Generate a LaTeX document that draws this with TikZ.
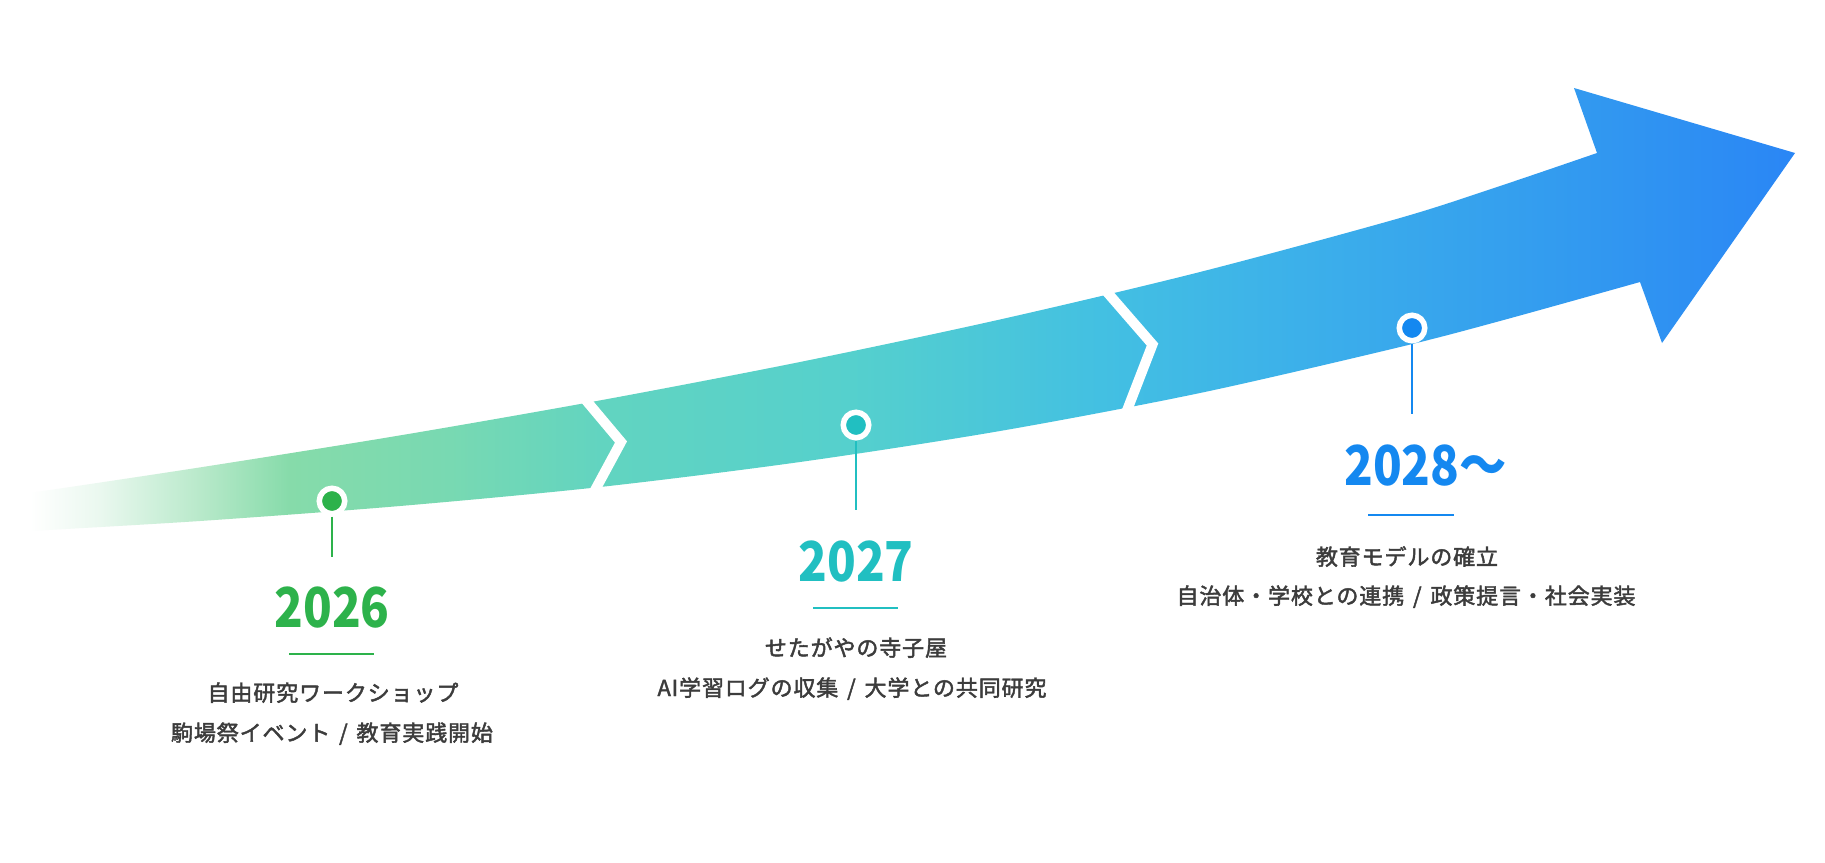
\documentclass[tikz,border=0pt]{standalone}
\usepackage{fontspec}
\newfontfamily\jpyear{Noto Sans CJK JP}[FakeStretch=0.86]
\newfontfamily\jpbody{Noto Sans CJK JP}[FakeBold=2, LetterSpace=4]
\definecolor{green1}{HTML}{2DB24B}
\definecolor{teal1}{HTML}{21BFC1}
\definecolor{blue1}{HTML}{1488F0}
\definecolor{bodytext}{HTML}{3C3C3C}
\definecolor{g0}{HTML}{EAF8EF}
\definecolor{g1}{HTML}{B8E9CA}
\definecolor{g2}{HTML}{86DBAA}
\definecolor{g3}{HTML}{78D9B2}
\definecolor{g4}{HTML}{62D4C0}
\definecolor{g5}{HTML}{55D0CD}
\definecolor{g6}{HTML}{43C0E2}
\definecolor{g7}{HTML}{3CB0EA}
\definecolor{g8}{HTML}{339CEF}
\definecolor{g9}{HTML}{2A86F5}
\pgfdeclarehorizontalshading{arrowgrad}{100bp}{color(0bp)=(white); color(25bp)=(white); color(26.98bp)=(g0); color(29.82bp)=(g1); color(32.37bp)=(g2); color(36.90bp)=(g3); color(41.15bp)=(g4); color(48.23bp)=(g5); color(55.31bp)=(g6); color(60.98bp)=(g7); color(68.06bp)=(g8); color(75bp)=(g9); color(100bp)=(g9)}
\begin{document}
\begin{tikzpicture}[x=1pt,y=-1pt,
  dotc/.style={circle, minimum size=25.5pt, inner sep=0pt, draw=white, line width=5.5pt},
  stem/.style={line width=2pt},
  uline/.style={line width=2.2pt},
  year/.style={font=\jpyear\bfseries\fontsize{55}{60}\selectfont, inner sep=0pt},
  body/.style={font=\jpbody\fontsize{22}{26}\selectfont, text=bodytext, inner sep=0pt},
  gap/.style={draw=white, line width=10pt, miter limit=10}]
\useasboundingbox (0,0) rectangle (1825,862);
\fill[white] (0,0) rectangle (1825,862);
\def\arrowpath{plot[smooth,tension=0.5] coordinates {(30,531) (200,521) (400,506) (600,487) (800,462) (1000,431) (1200,393) (1400,347) (1500,321) (1640,282)}
 -- (1662,343) -- (1795,153) -- (1574,88) -- (1597,153)
 -- plot[smooth,tension=0.5] coordinates {(1597,153) (1500,186) (1400,218) (1200,272) (1000,319.5) (800,362) (600,400.4) (400,435.4) (200,467.4) (30,493)} -- cycle}
\begin{scope}
  \clip \arrowpath;
  \shade[shading=arrowgrad] (30,80) rectangle (1795,540);
\end{scope}
% chevron gaps
\coordinate (ga1) at (579,392);
\coordinate (ga2) at (621,442);
\coordinate (ga3) at (594,492);
\coordinate (gb1) at (1100,284);
\coordinate (gb2) at (1152.5,344.5);
\coordinate (gb3) at (1126,413);
\draw[gap] (ga1) -- (ga2) -- (ga3);
\draw[gap] (gb1) -- (gb2) -- (gb3);
% markers
\node[dotc, fill=green1] (c1) at (332,501) {};
\node[dotc, fill=teal1] (c2) at (856,425) {};
\node[dotc, fill=blue1] (c3) at (1412,328) {};
\coordinate (e1) at (332,557);
\coordinate (e2) at (856,510);
\coordinate (e3) at (1412,414);
\draw[stem, green1] (c1.south) -- (e1);
\draw[stem, teal1] (c2.south) -- (e2);
\draw[stem, blue1] (c3.south) -- (e3);
% years
\node[year, text=green1, anchor=base] (y1) at (332,627) {2026};
\node[year, text=teal1, anchor=base] (y2) at (856,581) {2027};
\node[year, text=blue1, anchor=base west] (y3) at (1344,485) {2028～};
% underlines
\coordinate (u1a) at (289,654); \coordinate (u1b) at (374,654);
\coordinate (u2a) at (813,608); \coordinate (u2b) at (898,608);
\coordinate (u3a) at (1368,515); \coordinate (u3b) at (1454,515);
\draw[uline, green1] (u1a) -- (u1b);
\draw[uline, teal1] (u2a) -- (u2b);
\draw[uline, blue1] (u3a) -- (u3b);
% texts
\node[body, anchor=base] (t1a) at (333,701) {自由研究ワークショップ};
\node[body, anchor=base] (t1b) at (332,741) {駒場祭イベント\hspace{0.4em}/\hspace{0.4em}教育実践開始};
\node[body, anchor=base] (t2a) at (856,656) {せたがやの寺子屋};
\node[body, anchor=base] (t2b) at (852,696) {AI学習ログの収集\hspace{0.4em}/\hspace{0.4em}大学との共同研究};
\node[body, anchor=base] (t3a) at (1407,565) {教育モデルの確立};
\node[body, anchor=base] (t3b) at (1406,604) {自治体・学校との連携\hspace{0.4em}/\hspace{0.4em}政策提言・社会実装};
\end{tikzpicture}
\end{document}
